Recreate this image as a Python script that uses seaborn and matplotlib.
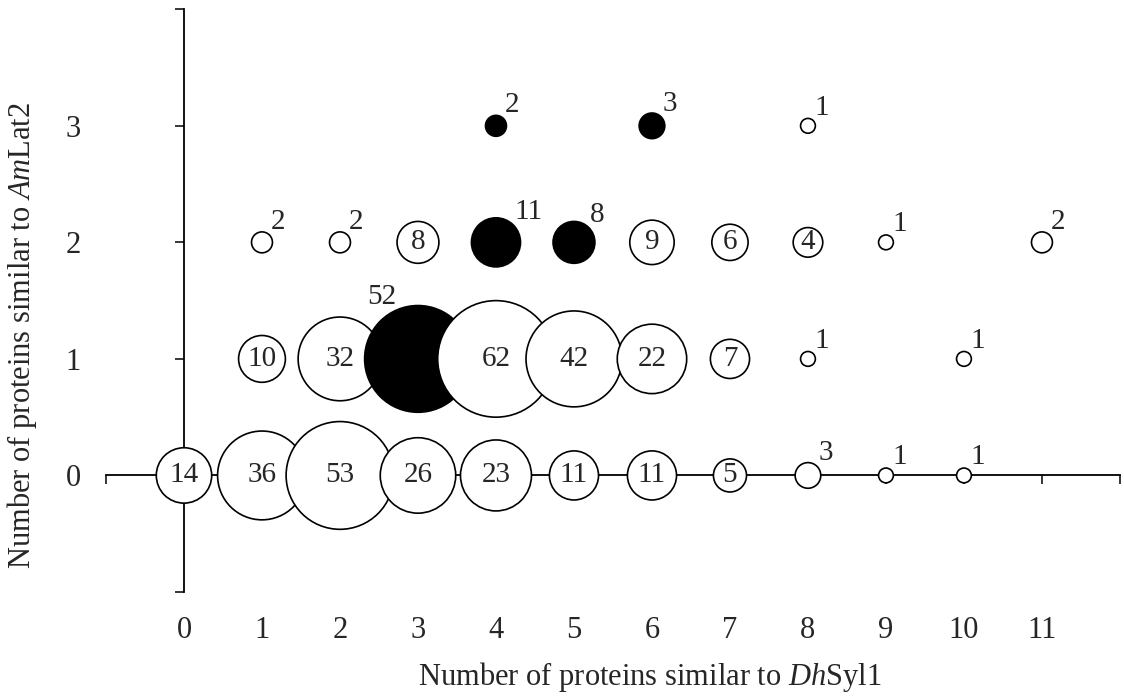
import numpy as np
import pandas as pd
import seaborn as sns
import matplotlib.pyplot as plt

# bubble chart: counts of proteins similar to DhSyl1 (x) vs AmLat2 (y)
row0_x = [0, 1, 2, 3, 4, 5, 6, 7, 8, 9, 10]
row0_n = [14, 36, 53, 26, 23, 11, 11, 5, 3, 1, 1]
row1_x = [1, 2, 3, 4, 5, 6, 7, 8, 10]
row1_n = [10, 32, 52, 62, 42, 22, 7, 1, 1]
row2_x = [1, 2, 3, 4, 5, 6, 7, 8, 9, 11]
row2_n = [2, 2, 8, 11, 8, 9, 6, 4, 1, 2]
row3_x = [4, 6, 8]
row3_n = [2, 3, 1]
# filled (black) bubbles, as (x, y)
filled_pts = [(3, 1), (4, 2), (5, 2), (4, 3), (6, 3)]

x_ticklabels = [str(i) for i in range(12)]
y_ticklabels = ['0', '1', '2', '3']

rows = []
for yv, xs, ns in [(0, row0_x, row0_n), (1, row1_x, row1_n),
                   (2, row2_x, row2_n), (3, row3_x, row3_n)]:
    for xv, n in zip(xs, ns):
        fill = 'filled' if (xv, yv) in filled_pts else 'open'
        rows.append({'dh': xv, 'am': yv, 'n': n, 'fill': fill})
df = pd.DataFrame(rows)

sns.set_style('white')
plt.rcParams['font.family'] = ['Liberation Serif', 'DejaVu Serif']
plt.rcParams['mathtext.fontset'] = 'custom'
plt.rcParams['mathtext.rm'] = 'Liberation Serif'
plt.rcParams['mathtext.it'] = 'Liberation Serif:italic'

fig = plt.figure(figsize=(11.24, 6.98), dpi=100)
ax = fig.add_axes([0.0943, 0.1519, 0.9021, 0.8348])

# area proportional to count (diameter ~14.8 px * sqrt(n))
k = (14.8 * 0.72) ** 2
sns.scatterplot(data=df, x='dh', y='am', size='n', sizes=(0, k * 62),
                size_norm=(0, 62), hue='fill',
                palette={'filled': 'black', 'open': 'white'},
                edgecolor='black', linewidth=1.2, legend=False,
                zorder=3, ax=ax)

fs = 21
for _, r in df.iterrows():
    rad = 14.8 * np.sqrt(r['n']) / 2 * 0.72  # radius in points
    lab = str(r['n'])
    if r['fill'] == 'filled' and r['n'] > 20:
        ax.annotate(lab, (r['dh'], r['am']), xytext=(-0.4 * rad, 0.92 * rad),
                    textcoords='offset points', ha='right', va='bottom',
                    fontsize=fs, zorder=4)
    elif r['fill'] == 'filled' or r['n'] <= 3:
        ax.annotate(lab, (r['dh'], r['am']),
                    xytext=(0.7 * rad + 1, 0.7 * rad),
                    textcoords='offset points', ha='left', va='bottom',
                    fontsize=fs, zorder=4)
    else:
        ax.text(r['dh'], r['am'], lab, ha='center', va='center',
                fontsize=fs, zorder=4)

ax.set_xlim(-1, 12)
ax.set_ylim(-1, 4)
ax.spines['top'].set_visible(False)
ax.spines['right'].set_visible(False)
ax.spines['left'].set_position(('data', 0))
ax.spines['bottom'].set_position(('data', 0))
for s in ['left', 'bottom']:
    ax.spines[s].set_linewidth(1.3)
    ax.spines[s].set_color('black')

ax.set_xticks(range(-1, 13))
ax.set_xticklabels([''] + x_ticklabels + [''])
ax.set_yticks(range(-1, 5))
ax.set_yticklabels([''] + y_ticklabels + [''])
ax.tick_params(axis='x', direction='out', length=6.5, width=1.3,
               pad=95, labelsize=22, bottom=True)
ax.tick_params(axis='y', direction='out', length=6.5, width=1.3,
               pad=68, labelsize=22, left=True)

ax.set_xlabel(r'Number of proteins similar to $\mathit{Dh}$Syl1', fontsize=22)
ax.set_ylabel(r'Number of proteins similar to $\mathit{Am}$Lat2', fontsize=22)
ax.xaxis.set_label_coords(0.536, -0.117)
ax.yaxis.set_label_coords(-0.066, 0.44)

fig.savefig('out.png', dpi=100)
